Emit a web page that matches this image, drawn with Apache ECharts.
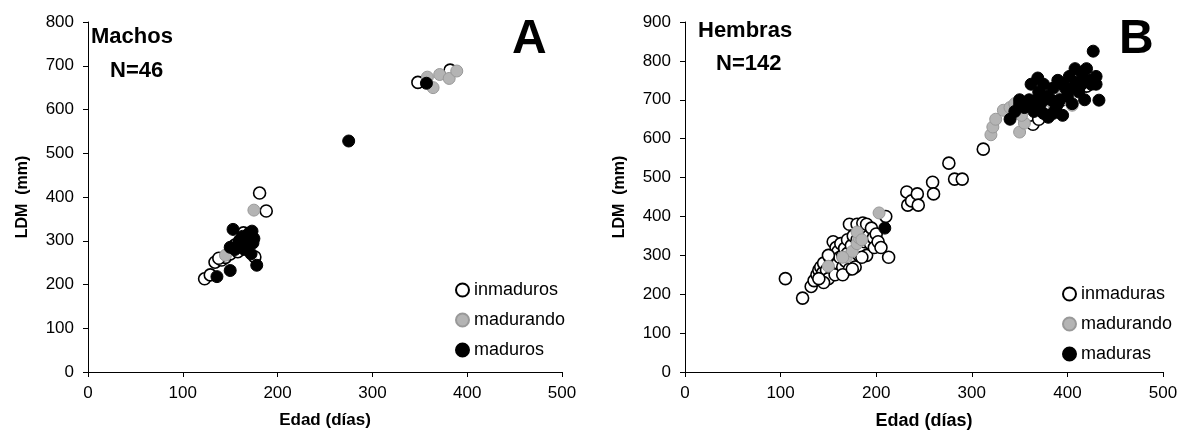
<!DOCTYPE html>
<html><head><meta charset="utf-8">
<script src="https://cdn.jsdelivr.net/npm/echarts@6/dist/echarts.min.js"></script>
<style>html,body{margin:0;padding:0;background:#fff}#c{width:1185px;height:441px}</style>
</head><body><div id="c"></div>
<script>
// Panel A (Machos) — [edad, LDM]
const machosInmaduros = [[123,213],[129,222],[134,251],[141,256],[145,262],[150,270],[155,290],[160,300],[164,318],[168,310],[176,263],[181,409],[188,368],[170,295],[158,275],[138,260],[348,662],[382,690]];
const machosMadurando = [[145,267],[175,370],[160,290],[358,674],[364,650],[371,680],[381,671],[389,688]];
const machosMaduros = [[136,218],[150,232],[153,326],[157,286],[160,300],[163,310],[165,280],[170,318],[173,322],[174,295],[175,305],[178,244],[172,270],[155,280],[150,285],[168,300],[275,528],[357,660]];
// Panel B (Hembras)
const hembrasInmaduras = [[105,240],[123,190],[132,220],[135,235],[138,250],[140,262],[142,270],[144,255],[145,280],[147,245],[148,262],[150,240],[152,290],[153,270],[155,300],[155,335],[157,250],[158,320],[160,310],[160,280],[162,295],[163,330],[165,300],[165,270],[167,318],[168,285],[170,340],[170,305],[172,380],[172,265],[174,325],[175,290],[176,350],[178,310],[178,270],[180,340],[180,380],[182,300],[184,320],[185,360],[186,383],[188,335],[190,380],[190,300],[192,350],[194,330],[195,370],[197,345],[198,320],[200,355],[202,335],[205,320],[210,400],[213,295],[165,250],[150,300],[145,230],[140,240],[185,295],[175,265],[232,463],[233,429],[237,440],[243,458],[244,429],[259,488],[260,458],[276,537],[282,496],[290,496],[312,573],[364,637],[360,660],[370,650],[385,690],[395,700],[400,740],[410,730],[420,735],[375,680],[390,720]];
const hembrasMadurando = [[150,272],[169,296],[175,310],[180,330],[182,345],[180,360],[185,340],[203,409],[165,295],[320,610],[322,630],[325,650],[333,673],[340,680],[350,617],[355,640],[352,660],[375,700],[385,690],[405,686],[400,700],[395,720],[345,690]];
const hembrasMaduras = [[209,370],[340,650],[345,670],[350,690],[355,680],[360,700],[365,670],[369,756],[370,720],[372,690],[375,740],[378,710],[380,655],[383,700],[385,730],[388,680],[390,750],[392,700],[395,660],[398,730],[400,710],[402,760],[405,690],[408,780],[410,745],[412,720],[415,770],[418,700],[420,780],[422,750],[425,740],[427,825],[430,760],[433,699],[430,740],[362,740],[368,700],[375,665],[385,665],[395,740],[405,730],[415,740],[390,690],[360,690],[350,700]];
const xTicks = [0,500,100];
const yMaxA = 800, yMaxB = 900;

const F = 'Liberation Sans, Arial, sans-serif';
const openS = {color:'#fff', borderColor:'#000', borderWidth:1.6, opacity:1};
const grayS = {color:'#b4b4b4', borderColor:'#999', borderWidth:1, opacity:1};
const blackS = {color:'#000', borderColor:'#000', borderWidth:1, opacity:1};
function xAx(i,fs){return {gridIndex:i,type:'value',min:xTicks[0],max:xTicks[1],interval:xTicks[2],
  name:'Edad (días)',nameLocation:'middle',nameGap:40,nameTextStyle:{fontFamily:F,fontWeight:'bold',fontSize:fs,color:'#000'},
  axisLine:{lineStyle:{color:'#000',width:1}},axisTick:{show:true,length:5,lineStyle:{color:'#000'}},
  axisLabel:{fontFamily:F,fontSize:17,color:'#000',margin:13},splitLine:{show:false}};}
function yAx(i,max){return {gridIndex:i,type:'value',min:0,max:max,interval:100,
  name:'LDM  (mm)',nameLocation:'middle',nameGap:57,nameTextStyle:{fontFamily:F,fontWeight:'bold',fontSize:16,color:'#000'},
  axisLine:{show:true,lineStyle:{color:'#000',width:1}},axisTick:{show:true,length:5,lineStyle:{color:'#000'}},
  axisLabel:{fontFamily:F,fontSize:17,color:'#000',margin:14},splitLine:{show:false}};}
function sc(name,data,i,style){return {name:name,type:'scatter',xAxisIndex:i,yAxisIndex:i,data:data,symbol:'circle',symbolSize:12,itemStyle:style,emphasis:{disabled:true}};}
const chart = echarts.init(document.getElementById('c'),null,{renderer:'canvas'});
const legText = {fontFamily:F,fontSize:18,color:'#000',padding:[0,0,0,0]};
chart.setOption({
  animation:false,
  grid:[{left:88,right:623,top:22,bottom:69},{left:685,right:22,top:22,bottom:69}],
  xAxis:[xAx(0,17),xAx(1,18)],
  yAxis:[yAx(0,yMaxA),yAx(1,yMaxB)],
  legend:[
    {orient:'vertical',left:450,top:276,itemWidth:13,itemHeight:13,itemGap:12,icon:'circle',
     textStyle:legText,data:['inmaduros','madurando','maduros']},
    {orient:'vertical',left:1057,top:280,itemWidth:13,itemHeight:13,itemGap:12,icon:'circle',
     textStyle:legText,data:['inmaduras','madurando ','maduras']}
  ],
  title:[
    {text:'Machos',left:86,top:21,textStyle:{fontFamily:F,fontWeight:'bold',fontSize:22,color:'#000'}},
    {text:'N=46',left:105,top:55,textStyle:{fontFamily:F,fontWeight:'bold',fontSize:22,color:'#000'}},
    {text:'A',left:507,top:11,textStyle:{fontFamily:F,fontWeight:'bold',fontSize:48,color:'#000'}},
    {text:'Hembras',left:693,top:15,textStyle:{fontFamily:F,fontWeight:'bold',fontSize:22,color:'#000'}},
    {text:'N=142',left:711,top:48,textStyle:{fontFamily:F,fontWeight:'bold',fontSize:22,color:'#000'}},
    {text:'B',left:1114,top:11,textStyle:{fontFamily:F,fontWeight:'bold',fontSize:48,color:'#000'}}
  ],
  series:[
    sc('inmaduros',machosInmaduros,0,openS),
    sc('madurando',machosMadurando,0,grayS),
    sc('maduros',machosMaduros,0,blackS),
    sc('inmaduras',hembrasInmaduras,1,openS),
    sc('madurando ',hembrasMadurando,1,grayS),
    sc('maduras',hembrasMaduras,1,blackS)
  ]
});
</script></body></html>
